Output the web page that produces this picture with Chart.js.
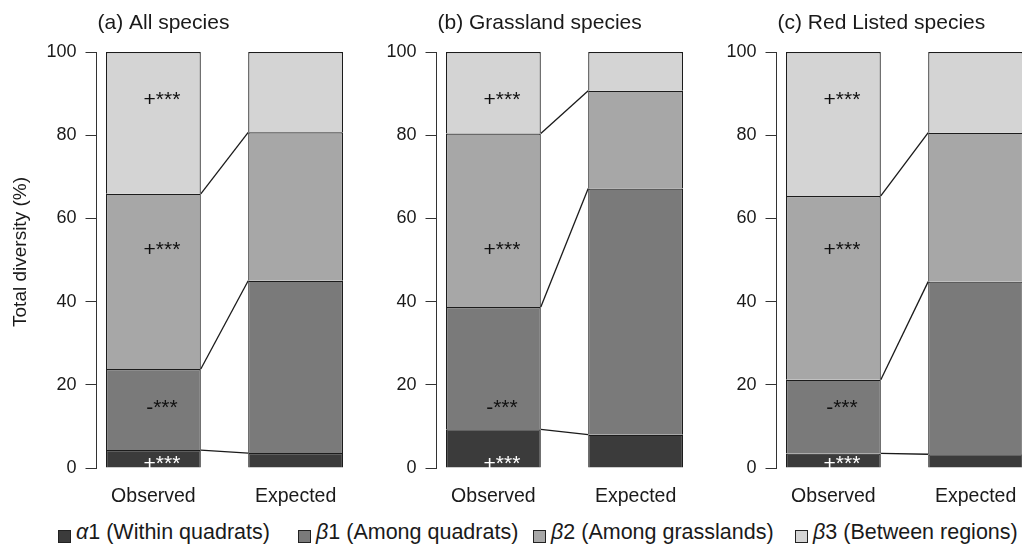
<!DOCTYPE html>
<html>
<head>
<meta charset="utf-8">
<script src="https://cdn.jsdelivr.net/npm/chart.js@4/dist/chart.umd.min.js"></script>
<style>
  html, body { margin: 0; padding: 0; background: #fff; }
  body { width: 1022px; height: 548px; position: relative; overflow: hidden; font-family: "Liberation Sans", Arial, sans-serif; color: #1a1a1a; }
  canvas.panel { position: absolute; top: 0; }
  .lg-box { position: absolute; top: 530px; width: 11px; height: 11px; border: 1px solid #222; }
  .lg-txt { position: absolute; top: 521px; font-size: 21.5px; line-height: 22px; white-space: nowrap; }
</style>
</head>
<body>
<canvas class="panel" id="pa" width="360" height="515" style="left:0px"></canvas>
<canvas class="panel" id="pb" width="360" height="515" style="left:340px"></canvas>
<canvas class="panel" id="pc" width="360" height="515" style="left:680px"></canvas>
<div id="legend"></div>
<script>
// categories and labels
const panelTitles = ['(a) All species', '(b) Grassland species', '(c) Red Listed species'];
const xLabels = ['Observed', 'Expected'];
const xPos = [1, 2.5];
const yTitle = 'Total diversity (%)';

// components, bottom to top
const seriesKeys = ['α1', 'β1', 'β2', 'β3'];
const seriesDesc = ['(Within quadrats)', '(Among quadrats)', '(Among grasslands)', '(Between regions)'];
const seriesColors = ['#3b3b3b', '#7a7a7a', '#a7a7a7', '#d4d4d4'];

// % of total diversity per component (observed, expected)
const allObs = [4.3, 19.5, 42.1, 34.1];
const allExp = [3.6, 41.4, 35.7, 19.3];
const grassObs = [9.3, 29.4, 41.7, 19.6];
const grassExp = [8.0, 59.2, 23.5, 9.3];
const redObs = [3.5, 17.7, 44.2, 34.6];
const redExp = [3.3, 41.5, 35.8, 19.4];

// significance marks on observed bars (bottom to top)
const annotAll = ['+***', '-***', '+***', '+***'];
const annotGrass = ['+***', '-***', '+***', '+***'];
const annotRed = ['+***', '-***', '+***', '+***'];
const annotY = [-0.5, 13.1, 51, 87];

const panels = [
  { id: 'pa', title: panelTitles[0], obs: allObs, exp: allExp, annot: annotAll },
  { id: 'pb', title: panelTitles[1], obs: grassObs, exp: grassExp, annot: annotGrass },
  { id: 'pc', title: panelTitles[2], obs: redObs, exp: redExp, annot: annotRed }
];

const FONT = '"Liberation Sans", Arial, sans-serif';
const INK = '#1a1a1a';

const cumsum = arr => { let s = 0; return arr.map(v => (s += v)); };

// titles, y title and +/- marks
const extrasPlugin = {
  id: 'extras',
  afterDatasetsDraw(chart, args, opts) {
    const { ctx, chartArea, scales } = chart;
    ctx.save();
    ctx.fillStyle = INK;
    ctx.font = '21px ' + FONT;
    ctx.textAlign = 'left';
    ctx.textBaseline = 'alphabetic';
    ctx.fillText(opts.title, chartArea.left + 1, 29);

    if (opts.yTitle) {
      ctx.save();
      ctx.translate(21, 252);
      ctx.rotate(-Math.PI / 2);
      ctx.font = '19px ' + FONT;
      ctx.textAlign = 'center';
      ctx.textBaseline = 'middle';
      ctx.fillText(opts.yTitle, 0, 0);
      ctx.restore();
    }

    ctx.font = '21px ' + FONT;
    ctx.textAlign = 'center';
    ctx.textBaseline = 'alphabetic';
    const x = scales.x.getPixelForValue(xPos[0] + 0.09);
    opts.annot.forEach((txt, i) => {
      ctx.fillStyle = i === 0 ? '#fff' : '#111';
      ctx.fillText(txt, x, scales.y.getPixelForValue(annotY[i]));
    });
    ctx.restore();
  }
};

panels.forEach((p, pi) => {
  const bars = seriesKeys.map((k, i) => ({
    type: 'bar',
    label: k,
    data: [{ x: xPos[0], y: p.obs[i] }, { x: xPos[1], y: p.exp[i] }],
    backgroundColor: seriesColors[i],
    borderColor: '#1c1c1c',
    borderWidth: 1.2,
    borderSkipped: 'start',
    categoryPercentage: 1,
    barPercentage: 1 / 1.5
  }));

  // connectors between matching boundaries of the two bars
  const cObs = cumsum(p.obs), cExp = cumsum(p.exp);
  const links = [0, 1, 2].map(i => ({
    type: 'line',
    stack: 'link' + i,
    data: [{ x: xPos[0] + 0.5, y: cObs[i] }, { x: xPos[1] - 0.5, y: cExp[i] }],
    borderColor: '#1a1a1a',
    borderWidth: 1.3,
    pointRadius: 0,
    tension: 0
  }));

  new Chart(document.getElementById(p.id), {
    type: 'bar',
    data: { datasets: [...bars, ...links] },
    plugins: [extrasPlugin],
    options: {
      responsive: false,
      animation: false,
      layout: { padding: { top: 52, right: 7.5, left: 0, bottom: 0 } },
      plugins: {
        legend: { display: false },
        tooltip: { enabled: false },
        extras: { title: p.title, annot: p.annot, yTitle: pi === 0 ? yTitle : null }
      },
      scales: {
        x: {
          type: 'linear',
          min: 0.4,
          max: 3.1,
          offset: false,
          stacked: true,
          grid: { display: false, drawTicks: false, offset: false },
          border: { display: false },
          afterBuildTicks: s => { s.ticks = xPos.map(v => ({ value: v })); },
          afterFit: s => { s.height = 47; },
          ticks: {
            callback: (v, i) => xLabels[i],
            font: { family: FONT, size: 19.5 },
            color: INK,
            padding: 17,
            maxRotation: 0,
            autoSkip: false
          }
        },
        y: {
          stacked: true,
          min: 0,
          max: 100,
          afterFit: s => { s.width = 96.5; },
          grid: { display: true, drawOnChartArea: false, drawTicks: true, tickLength: 11, color: '#333', lineWidth: 1 },
          border: { display: true, color: '#333', width: 1 },
          ticks: { stepSize: 20, padding: 9, font: { family: FONT, size: 18 }, color: INK }
        }
      }
    }
  });
});

// legend along the bottom
const legendLeft = [58, 298, 533, 795];
const legend = document.getElementById('legend');
seriesKeys.forEach((k, i) => {
  const box = document.createElement('div');
  box.className = 'lg-box';
  box.style.left = legendLeft[i] + 'px';
  box.style.background = seriesColors[i];
  legend.appendChild(box);
  const txt = document.createElement('div');
  txt.className = 'lg-txt';
  txt.style.left = (legendLeft[i] + 18) + 'px';
  txt.innerHTML = '<i>' + k[0] + '</i>' + k.slice(1) + ' ' + seriesDesc[i];
  legend.appendChild(txt);
});
</script>
</body>
</html>
